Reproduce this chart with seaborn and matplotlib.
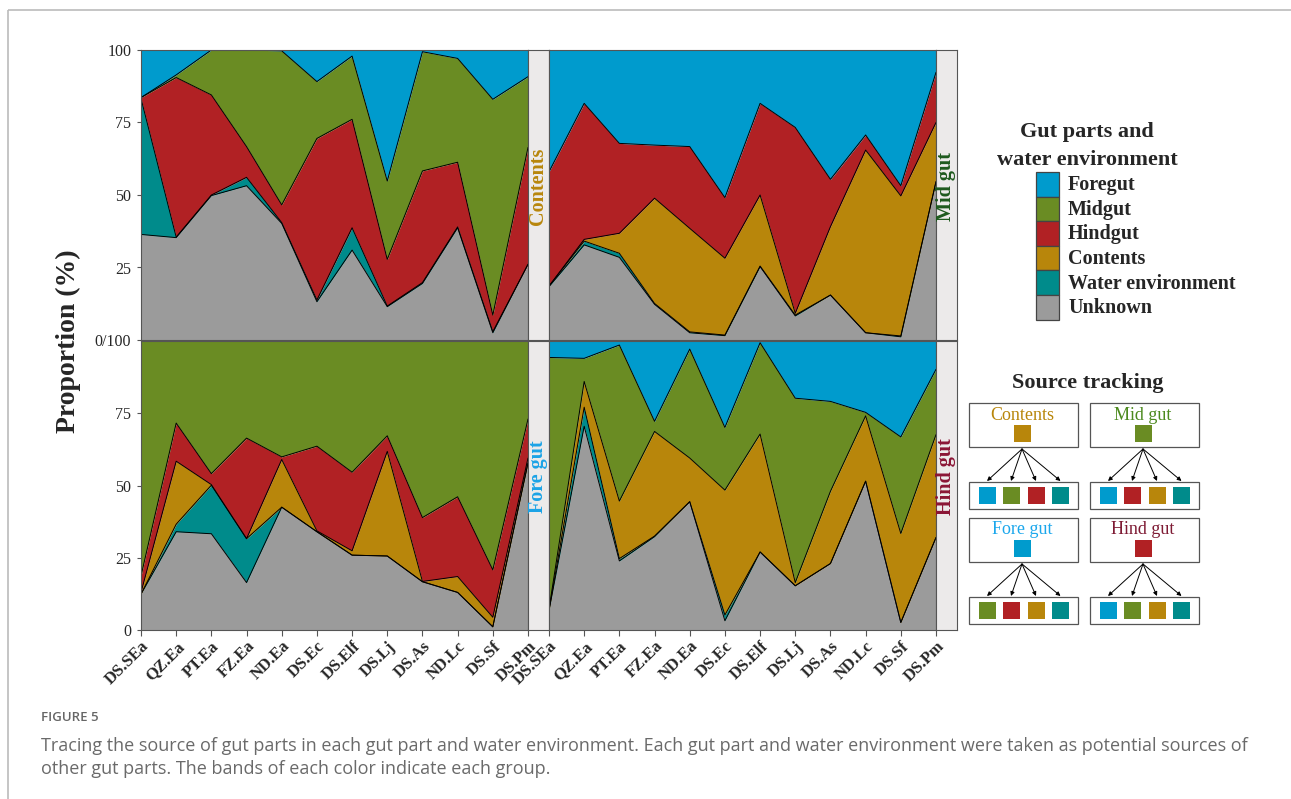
import numpy as np
import pandas as pd
import matplotlib
matplotlib.use("Agg")
import matplotlib.pyplot as plt
import seaborn as sns
from matplotlib.patches import Rectangle, FancyArrowPatch

# ---------------- data ----------------
sites = ["DS.SEa", "QZ.Ea", "PT.Ea", "FZ.Ea", "ND.Ea", "DS.Ec",
         "DS.Elf", "DS.Lj", "DS.As", "ND.Lc", "DS.Sf", "DS.Pm"]

# stacking order bottom -> top
stack_order = ["Unknown", "Water environment", "Contents", "Hindgut", "Midgut", "Foregut"]
legend_order = ["Foregut", "Midgut", "Hindgut", "Contents", "Water environment", "Unknown"]

# Panel "Contents" (sink = gut contents)
contents_unknown = [36.4, 35.3, 49.8, 53.2, 40.2, 13.2, 31.0, 11.5, 19.5, 38.7, 2.5, 26.1]
contents_water   = [46.9, 0.2, 0.2, 2.9, 0.3, 0.6, 7.7, 0.2, 0.3, 0.3, 0.4, 0.0]
contents_hindgut = [0.3, 55.0, 34.5, 10.6, 6.1, 55.7, 37.4, 16.1, 38.5, 22.3, 5.7, 40.3]
contents_midgut  = [0.0, 0.9, 15.5, 33.3, 53.1, 19.6, 21.8, 27.0, 41.1, 35.8, 74.4, 24.4]
contents_foregut = [16.4, 8.6, 0.0, 0.0, 0.3, 10.9, 2.1, 45.2, 0.6, 2.9, 17.0, 9.2]

# Panel "Mid gut"
midgut_unknown  = [18.4, 32.8, 28.5, 12.3, 2.5, 1.5, 25.3, 8.3, 15.5, 2.5, 1.1, 54.6]
midgut_water    = [0.2, 1.3, 1.4, 0.3, 0.3, 0.2, 0.2, 0.3, 0.0, 0.0, 0.3, 0.0]
midgut_contents = [0.0, 0.6, 6.9, 36.3, 35.7, 26.5, 24.5, 0.6, 23.6, 63.0, 48.3, 20.4]
midgut_hindgut  = [39.4, 46.9, 31.0, 18.3, 28.2, 20.9, 31.6, 64.1, 16.3, 5.2, 3.5, 17.3]
midgut_foregut  = [42.0, 18.4, 32.2, 32.8, 33.3, 50.9, 18.4, 26.7, 44.6, 29.3, 46.8, 7.7]

# Panel "Fore gut"
foregut_unknown  = [12.4, 34.0, 33.3, 16.4, 42.5, 34.0, 25.9, 25.6, 16.7, 13.0, 1.1, 57.8]
foregut_water    = [0.0, 2.6, 16.8, 15.2, 0.0, 0.0, 0.0, 0.0, 0.0, 0.0, 0.0, 0.0]
foregut_contents = [0.6, 21.8, 0.2, 0.0, 16.5, 0.3, 1.5, 36.2, 0.1, 5.5, 3.3, 1.7]
foregut_hindgut  = [5.7, 13.2, 3.8, 34.8, 0.9, 29.3, 27.2, 5.4, 22.1, 27.6, 16.4, 13.5]
foregut_midgut   = [81.3, 28.4, 45.9, 33.6, 40.1, 36.4, 45.4, 32.8, 61.1, 53.9, 79.2, 27.0]

# Panel "Hind gut"
hindgut_unknown  = [6.7, 70.5, 23.9, 32.3, 44.4, 3.2, 27.0, 15.3, 23.0, 51.5, 2.6, 32.0]
hindgut_water    = [0.0, 6.6, 0.8, 0.2, 0.0, 2.0, 0.0, 0.0, 0.0, 0.0, 0.0, 0.0]
hindgut_contents = [0.5, 8.9, 19.9, 36.2, 15.1, 43.2, 40.8, 1.1, 25.0, 22.6, 30.8, 35.6]
hindgut_midgut   = [87.1, 8.0, 54.0, 3.5, 37.7, 21.7, 31.6, 63.8, 31.1, 1.2, 33.4, 22.6]
hindgut_foregut  = [5.7, 6.0, 1.4, 27.8, 2.8, 29.9, 0.6, 19.8, 20.9, 24.7, 33.2, 9.8]

panels = {
    "Contents": {"Unknown": contents_unknown, "Water environment": contents_water,
                 "Hindgut": contents_hindgut, "Midgut": contents_midgut,
                 "Foregut": contents_foregut},
    "Mid gut": {"Unknown": midgut_unknown, "Water environment": midgut_water,
                "Contents": midgut_contents, "Hindgut": midgut_hindgut,
                "Foregut": midgut_foregut},
    "Fore gut": {"Unknown": foregut_unknown, "Water environment": foregut_water,
                 "Contents": foregut_contents, "Hindgut": foregut_hindgut,
                 "Midgut": foregut_midgut},
    "Hind gut": {"Unknown": hindgut_unknown, "Water environment": hindgut_water,
                 "Contents": hindgut_contents, "Midgut": hindgut_midgut,
                 "Foregut": hindgut_foregut},
}

rows = []
for pname, gd in panels.items():
    for g, vals in gd.items():
        for s, v in zip(sites, vals):
            rows.append({"panel": pname, "site": s, "group": g, "value": v})
df = pd.DataFrame(rows)

group_colors = {"Foregut": "#009BCD", "Midgut": "#6A8C23", "Hindgut": "#B12124",
                "Contents": "#B8860B", "Water environment": "#008B8B",
                "Unknown": "#9B9B9B"}
strip_colors = {"Contents": "#B8860B", "Mid gut": "#1E5A1E",
                "Fore gut": "#1BA3E6", "Hind gut": "#8B1535"}
box_label_colors = {"Contents": "#B8860B", "Mid gut": "#4C8A1E",
                    "Fore gut": "#1BA7EC", "Hind gut": "#7E1B34"}

# ---------------- figure ----------------
sns.set_theme(style="white")
plt.rcParams["font.family"] = ["Liberation Serif", "DejaVu Serif"]
plt.rcParams["axes.linewidth"] = 0.8

W, H = 1291, 799
fig = plt.figure(figsize=(W / 100, H / 100), dpi=100)
fig.patch.set_facecolor("white")


def rect(x0, y0, x1, y1):
    return [x0 / W, 1 - y1 / H, (x1 - x0) / W, (y1 - y0) / H]


# overlay for decorations (pixel coordinates)
ov = fig.add_axes([0, 0, 1, 1])
ov.set_xlim(0, W)
ov.set_ylim(H, 0)
ov.axis("off")
ov.plot([8, W], [10, 10], color="#BBBBBB", lw=1.2, solid_capstyle="butt")
ov.plot([8, 8], [10, H], color="#BBBBBB", lw=1.2, solid_capstyle="butt")

layout = {
    "Contents": ((141, 50, 528, 340), (528, 50, 549, 340), "top", "left"),
    "Mid gut": ((549, 50, 936, 340), (936, 50, 957, 340), "top", "right"),
    "Fore gut": ((141, 341, 528, 630), (528, 341, 549, 630), "bottom", "left"),
    "Hind gut": ((549, 341, 936, 630), (936, 341, 957, 630), "bottom", "right"),
}

tick_font = dict(family="Liberation Serif", size=11.5)
xtick_font = dict(family="Liberation Serif", size=12, weight="bold")

for pname, (prect, srect, row, col) in layout.items():
    ax = fig.add_axes(rect(*prect))
    sub = df[df.panel == pname]
    wide = sub.pivot(index="site", columns="group", values="value").reindex(sites)
    present = [g for g in stack_order if g in wide.columns]
    xpos = np.arange(len(sites))
    base = np.zeros(len(sites))
    tops = []
    for g in present:
        top = base + wide[g].values
        ax.fill_between(xpos, base, top, color=group_colors[g], lw=0)
        tops.append(pd.DataFrame({"x": xpos, "y": top, "band": g}))
        base = top
    lines = pd.concat(tops, ignore_index=True)
    sns.lineplot(data=lines, x="x", y="y", units="band", estimator=None,
                 color="black", lw=0.7, ax=ax, legend=False)
    ax.set_xlim(0, len(sites) - 1)
    ax.set_ylim(0, 100)
    ax.set_xlabel("")
    ax.set_ylabel("")
    for sp in ax.spines.values():
        sp.set_color("#555555")
        sp.set_linewidth(0.8)
    ax.set_xticks(xpos)
    if row == "bottom":
        ax.set_xticklabels(sites, rotation=45, ha="right", va="top",
                           rotation_mode="anchor", **xtick_font)
        ax.tick_params(axis="x", length=4, width=0.8, color="#555555",
                       pad=2, bottom=True)
    else:
        ax.set_xticklabels([])
        ax.tick_params(axis="x", length=0)
    if col == "left":
        if row == "top":
            ax.set_yticks([0, 25, 50, 75, 100])
            ax.set_yticklabels(["0/100", "25", "50", "75", "100"], **tick_font)
        else:
            ax.set_yticks([0, 25, 50, 75])
            ax.set_yticklabels(["0", "25", "50", "75"], **tick_font)
        ax.tick_params(axis="y", length=3, width=0.8, color="#555555", pad=4,
                       left=True)
    else:
        ax.set_yticks([])
    # strip
    sax = fig.add_axes(rect(*srect))
    sax.set_facecolor("#ECEAEA")
    sax.set_xticks([])
    sax.set_yticks([])
    for sp in sax.spines.values():
        sp.set_color("#555555")
        sp.set_linewidth(0.8)
    sax.text(0.5, 0.53, pname, rotation=90, ha="center", va="center",
             transform=sax.transAxes, fontsize=14.5, fontweight="bold",
             color=strip_colors[pname], family="Liberation Serif")

fig.text(68 / W, 1 - 341 / H, "Proportion (%)", rotation=90, ha="center",
         va="center", fontsize=20, fontweight="bold", family="Liberation Serif")

# ---------------- legend ----------------
ov.text(1087, 137, "Gut parts and", ha="center", va="baseline", fontsize=16,
        fontweight="bold", family="Liberation Serif")
ov.text(1087, 165, "water environment", ha="center", va="baseline", fontsize=16,
        fontweight="bold", family="Liberation Serif")
key_top, key_h, key_w, key_x = 172, 24.6, 23, 1036
for i, g in enumerate(legend_order):
    y0 = key_top + i * key_h
    ov.add_patch(Rectangle((key_x, y0), key_w, key_h, fc=group_colors[g],
                           ec="#444444", lw=0.9))
    ov.text(key_x + key_w + 9, y0 + key_h / 2 + 1, g, ha="left", va="center",
            fontsize=14.5, fontweight="bold", family="Liberation Serif")

# ---------------- source tracking diagram ----------------
ov.text(1088, 388, "Source tracking", ha="center", va="baseline", fontsize=16,
        fontweight="bold", family="Liberation Serif")

diagram = [
    ("Contents", 969, 403, ["Foregut", "Midgut", "Hindgut", "Water environment"]),
    ("Mid gut", 1090, 403, ["Foregut", "Hindgut", "Contents", "Water environment"]),
    ("Fore gut", 969, 518, ["Midgut", "Hindgut", "Contents", "Water environment"]),
    ("Hind gut", 1090, 518, ["Foregut", "Midgut", "Contents", "Water environment"]),
]
self_group = {"Contents": "Contents", "Mid gut": "Midgut",
              "Fore gut": "Foregut", "Hind gut": "Hindgut"}
bw = 109
for name, bx, by, srcs in diagram:
    ov.add_patch(Rectangle((bx, by), bw, 44, fill=False, ec="#555555", lw=0.9))
    cx = bx + 53
    ov.text(cx, by + 12, name, ha="center", va="center", fontsize=13,
            color=box_label_colors[name], family="Liberation Serif")
    ov.add_patch(Rectangle((cx - 8.5, by + 22), 17, 17,
                           fc=group_colors[self_group[name]], ec="none"))
    ly = by + 79
    ov.add_patch(Rectangle((bx, ly), bw, 27, fill=False, ec="#555555", lw=0.9))
    sq_x = [bx + 18, bx + 42, bx + 67, bx + 91.5]
    for sx, g in zip(sq_x, srcs):
        ov.add_patch(Rectangle((sx - 8.5, ly + 5), 17, 17, fc=group_colors[g],
                               ec="none"))
        ov.add_patch(FancyArrowPatch((cx, by + 46), (sx, ly - 1),
                                     arrowstyle="-|>", mutation_scale=6,
                                     lw=0.7, color="black",
                                     shrinkA=0, shrinkB=0))

# ---------------- caption ----------------
cap_font = ["Open Sans", "DejaVu Sans"]
ov.text(41, 721, "FIGURE 5", ha="left", va="baseline", fontsize=9.5,
        color="#666666", family=cap_font, fontweight="semibold")
ov.text(41, 751, "Tracing the source of gut parts in each gut part and water environment. "
        "Each gut part and water environment were taken as potential sources of",
        ha="left", va="baseline", fontsize=13, color="#6a6a6a", family=cap_font)
ov.text(41, 774, "other gut parts. The bands of each color indicate each group.",
        ha="left", va="baseline", fontsize=13, color="#6a6a6a", family=cap_font)

fig.savefig("out.png", dpi=100, facecolor="white")
